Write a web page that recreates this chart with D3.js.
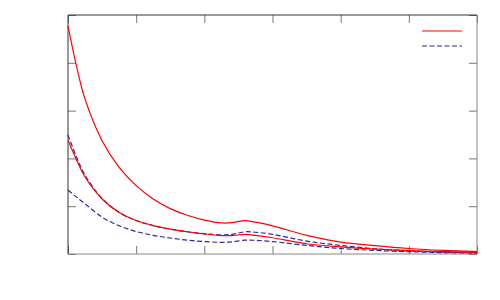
<!DOCTYPE html>
<html>
<head>
<meta charset="utf-8">
<script src="https://cdn.jsdelivr.net/npm/d3@7"></script>
<style>
  body { margin: 0; background: #fff; }
  svg { display: block; }
</style>
</head>
<body>
<div id="chart"></div>
<script>
// sample positions along x (axis units, 0..6)
const xs = [0, 0.125, 0.25, 0.5, 0.75, 1, 1.25, 1.5, 1.75, 2, 2.25, 2.4, 2.6, 2.75, 3, 3.5, 4, 4.5, 5, 5.5, 6];

// series values
const redUpper  = [4.77, 3.93, 3.24, 2.37, 1.81, 1.43, 1.15, 0.95, 0.81, 0.71, 0.65, 0.655, 0.70, 0.665, 0.59, 0.39, 0.25, 0.175, 0.115, 0.075, 0.05];
const redLower  = [2.38, 1.97, 1.61, 1.15, 0.87, 0.70, 0.595, 0.52, 0.465, 0.42, 0.385, 0.385, 0.41, 0.39, 0.34, 0.215, 0.148, 0.10, 0.07, 0.05, 0.035];
const blueUpper = [2.49, 2.03, 1.65, 1.16, 0.87, 0.70, 0.595, 0.52, 0.465, 0.425, 0.40, 0.41, 0.465, 0.455, 0.41, 0.27, 0.18, 0.11, 0.065, 0.04, 0.025];
const blueLower = [1.34, 1.19, 1.05, 0.77, 0.59, 0.47, 0.39, 0.335, 0.29, 0.26, 0.245, 0.255, 0.29, 0.285, 0.26, 0.18, 0.115, 0.075, 0.048, 0.03, 0.018];

const xTicks = [0, 1, 2, 3, 4, 5, 6];
const yTicks = [0, 1, 2, 3, 4, 5];

const margin = { top: 15, right: 23, bottom: 46, left: 68 },
    width = 500 - margin.left - margin.right,
    height = 300 - margin.top - margin.bottom;

const svg = d3.select("#chart")
    .append("svg")
    .attr("width", 500)
    .attr("height", 300)
    .append("g")
    .attr("transform", `translate(${margin.left},${margin.top})`);

const x = d3.scaleLinear().domain([0, 6]).range([0, width]);
const y = d3.scaleLinear().domain([0, 5]).range([height, 0]);

// ticks on all four sides, pointing inward, no labels
function styleAxis(g) {
    g.select(".domain").remove();
    g.selectAll(".tick line").attr("stroke", "#777").attr("stroke-width", 1);
    g.selectAll(".tick text").remove();
}
svg.append("g").attr("transform", `translate(0,${height})`)
    .call(d3.axisBottom(x).tickValues(xTicks).tickSize(-8)).call(styleAxis);
svg.append("g")
    .call(d3.axisTop(x).tickValues(xTicks).tickSize(-8)).call(styleAxis);
svg.append("g")
    .call(d3.axisLeft(y).tickValues(yTicks).tickSize(-8)).call(styleAxis);
svg.append("g").attr("transform", `translate(${width},0)`)
    .call(d3.axisRight(y).tickValues(yTicks).tickSize(-8)).call(styleAxis);

// frame
svg.append("line").attr("x1", 0).attr("x2", width).attr("y1", 0).attr("y2", 0).attr("stroke", "#333");
svg.append("line").attr("x1", 0).attr("x2", 0).attr("y1", 0).attr("y2", height).attr("stroke", "#333");
svg.append("line").attr("x1", 0).attr("x2", width).attr("y1", height).attr("y2", height).attr("stroke", "#888");
svg.append("line").attr("x1", width).attr("x2", width).attr("y1", 0).attr("y2", height).attr("stroke", "#888");

const line = d3.line()
    .x((d, i) => x(xs[i]))
    .y(d => y(d))
    .curve(d3.curveCatmullRom.alpha(0.5));

const series = [
    { values: blueLower, color: "#2a2a9c", dash: "5,2.5" },
    { values: blueUpper, color: "#2a2a9c", dash: "5,2.5" },
    { values: redLower, color: "#ff0000", dash: null },
    { values: redUpper, color: "#ff0000", dash: null }
];

series.forEach(s => {
    svg.append("path")
        .datum(s.values)
        .attr("fill", "none")
        .attr("stroke", s.color)
        .attr("stroke-width", 1.2)
        .attr("stroke-dasharray", s.dash)
        .attr("d", line);
});

// legend (samples only, no text)
const legend = svg.append("g").attr("transform", `translate(${width - 55},0)`);
legend.append("line").attr("x1", 0).attr("x2", 40).attr("y1", 16).attr("y2", 16)
    .attr("stroke", "#ff0000").attr("stroke-width", 1.2);
legend.append("line").attr("x1", 0).attr("x2", 40).attr("y1", 31).attr("y2", 31)
    .attr("stroke", "#2a2a9c").attr("stroke-width", 1.2).attr("stroke-dasharray", "5,2.5");
</script>
</body>
</html>
